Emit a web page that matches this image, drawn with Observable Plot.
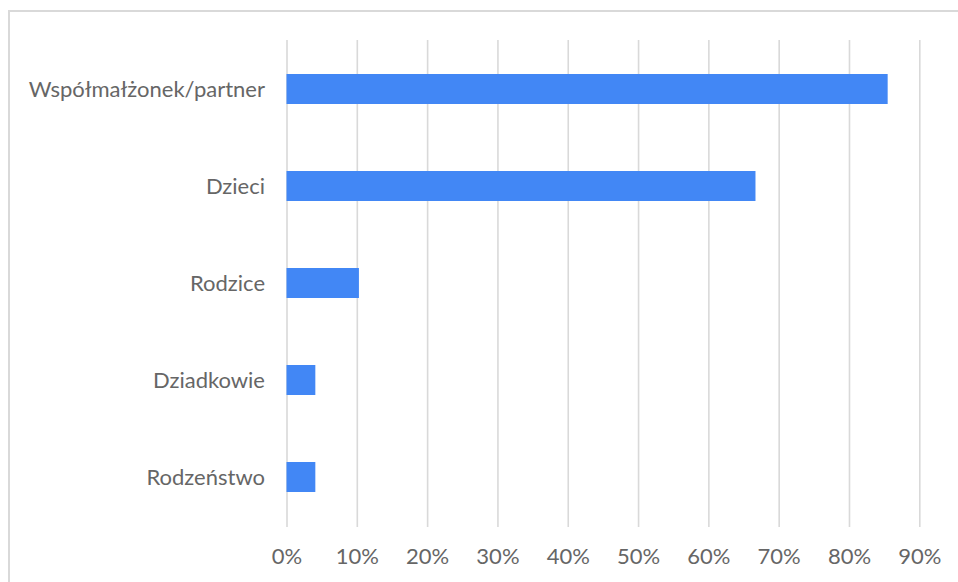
<!DOCTYPE html>
<html>
<head>
<meta charset="utf-8">
<script src="https://cdn.jsdelivr.net/npm/d3@7"></script>
<script src="https://cdn.jsdelivr.net/npm/@observablehq/plot@0.6"></script>
<style>
  html, body { margin: 0; padding: 0; background: #fff; }
  #wrap { position: relative; width: 958px; height: 582px; overflow: hidden; }
  #frame { position: absolute; left: 8px; top: 10px; width: 1000px; height: 1000px;
           border-left: 2px solid #d9d9d9; border-top: 2px solid #d9d9d9; box-sizing: border-box; }
  #chart { position: absolute; left: 0; top: 0; }
</style>
</head>
<body>
<div id="wrap"><div id="frame"></div><div id="chart"></div></div>
<script>
const categories = ["Współmałżonek/partner", "Dzieci", "Rodzice", "Dziadkowie", "Rodzeństwo"];
const values = [0.855, 0.667, 0.103, 0.041, 0.041];
const xTicks = [0, 0.1, 0.2, 0.3, 0.4, 0.5, 0.6, 0.7, 0.8, 0.9];

const data = categories.map((c, i) => ({category: c, value: values[i]}));

const chart = Plot.plot({
  width: 958,
  height: 582,
  marginLeft: 286.5,
  marginRight: 38.7,
  marginTop: 40,
  marginBottom: 55,
  style: {fontFamily: "Lato, 'Open Sans', sans-serif", fontSize: "22px", fontWeight: 400, color: "#666666", background: "transparent"},
  x: {domain: [0, 0.9]},
  y: {domain: categories, paddingInner: 0.69, paddingOuter: 0.345},
  marks: [
    Plot.ruleX(xTicks, {stroke: "#d9d9d9", strokeWidth: 1.6}),
    Plot.barX(data, {x: "value", y: "category", fill: "#4287f5"}),
    Plot.axisX({ticks: xTicks, tickFormat: d3.format(".0%"), tickSize: 0, tickPadding: 21, label: null, fill: "#666666"}),
    Plot.axisY({tickSize: 0, tickPadding: 22, label: null, fill: "#666666"})
  ]
});
document.getElementById("chart").appendChild(chart);
</script>
</body>
</html>
